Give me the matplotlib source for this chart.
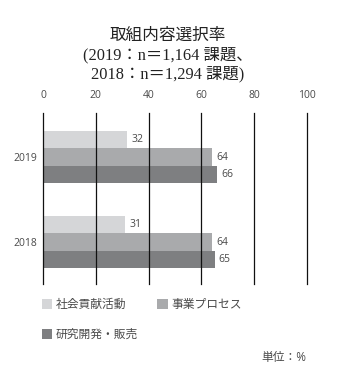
import numpy as np
import matplotlib.pyplot as plt

plt.rcParams['font.family'] = ['Open Sans', 'Noto Sans CJK JP', 'DejaVu Sans']

years = ['2019', '2018']
series = ['社会貢献活動', '事業プロセス', '研究開発・販売']
social = [32, 31]
process = [64, 64]
rnd = [66, 65]
colors = ['#d5d6d8', '#a9aaac', '#7e7f81']
xticks = [0, 20, 40, 60, 80, 100]

fig = plt.figure(figsize=(3.42, 3.84), dpi=100)
ax = fig.add_axes([0.1257, 0.2604, 0.772, 0.4453])

h = 0.205
y = np.arange(len(years))
bars = []
for i, (vals, c) in enumerate(zip([social, process, rnd], colors)):
    b = ax.barh(y + (i - 1) * h, vals, height=h, color=c, label=series[i], zorder=1)
    ax.bar_label(b, padding=3, fontsize=7.5, color='#4a4a4a')
    bars.append(b)

ax.set_xlim(0, 100)
ax.set_ylim(1.494, -0.518)
ax.set_xticks(xticks)
ax.xaxis.tick_top()
ax.set_yticks(y)
ax.set_yticklabels(years)
ax.tick_params(length=0, labelsize=7.5, labelcolor='#4a4a4a')
ax.tick_params(axis='x', pad=9)
ax.tick_params(axis='y', pad=4)
for s in ax.spines.values():
    s.set_visible(False)
ax.set_axisbelow(False)
ax.grid(axis='x', color='#111111', linewidth=0.9, zorder=3)
ax.grid(axis='y', visible=False)
for gl in ax.get_xgridlines():
    gl.set_clip_on(False)

title_font = ['Liberation Serif', 'Noto Sans CJK JP']
fig.text(0.49, 0.907, '取組内容選択率', ha='center', va='center', fontsize=12,
         family=['Noto Sans CJK JP', 'DejaVu Sans'], color='#222222')
fig.text(0.49, 0.857, '(2019：n＝1,164 課題、', ha='center', va='center', fontsize=11.8,
         family=title_font, color='#222222')
fig.text(0.49, 0.806, '2018：n＝1,294 課題)', ha='center', va='center', fontsize=11.8,
         family=title_font, color='#222222')

handles = [bars[0], bars[2], bars[1]]
labels = [series[0], series[2], series[1]]
leg = fig.legend(handles, labels, ncol=2, loc='upper left', bbox_to_anchor=(0.108, 0.237),
                 frameon=False, fontsize=8.5, handlelength=0.9, handleheight=0.9,
                 handletextpad=0.3, columnspacing=1.6, labelspacing=1.45, borderaxespad=0)
for t in leg.get_texts():
    t.set_color('#4a4a4a')

fig.text(0.895, 0.07, '単位：%', ha='right', va='center', fontsize=8.5, color='#4a4a4a')

fig.savefig('out.png', dpi=100)
